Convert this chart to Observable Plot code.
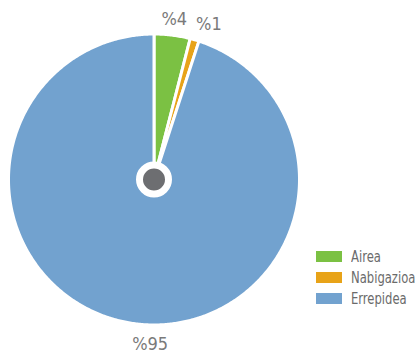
<!DOCTYPE html>
<html>
<head>
<meta charset="utf-8">
<script src="https://cdn.jsdelivr.net/npm/d3@7"></script>
<script src="https://cdn.jsdelivr.net/npm/@observablehq/plot@0.6"></script>
<style>
  html, body { margin: 0; padding: 0; background: #fff; }
  #wrap { position: relative; width: 418px; height: 354px; font-family: "Liberation Sans Narrow", "DejaVu Sans Condensed", sans-serif; }
  #legend { position: absolute; left: 316px; top: 246px; font-size: 15px; color: #6b6b6b; }
  .row { display: flex; align-items: center; height: 21px; white-space: nowrap; }
  .sw { width: 26px; height: 11px; margin-right: 9px; flex: none; }
  .lt { display: inline-block; transform: scaleX(0.86); transform-origin: left center; }
</style>
</head>
<body>
<div id="wrap"></div>
<script>
const categories = ["Airea", "Nabigazioa", "Errepidea"];
const values = [4, 1, 95];
const labels = ["%4", "%1", "%95"];
const colors = ["#7bc143", "#e8a318", "#72a2cf"];

const total = d3.sum(values);
const slices = [];
const polys = [];
let acc = 0;
categories.forEach((c, i) => {
  const a0 = acc / total * 2 * Math.PI;
  acc += values[i];
  const a1 = acc / total * 2 * Math.PI;
  slices.push({cat: c, label: labels[i], a0, a1, mid: (a0 + a1) / 2});
  polys.push({cat: c, x: 0, y: 0});
  const n = Math.max(2, Math.ceil((a1 - a0) / (Math.PI / 360)));
  for (let k = 0; k <= n; k++) {
    const a = a0 + (a1 - a0) * k / n;
    polys.push({cat: c, x: Math.sin(a), y: Math.cos(a)});
  }
  polys.push({cat: c, x: 0, y: 0});
});

const labelPts = slices.map(s => {
  const big = s.a1 - s.a0 > Math.PI;
  const r = big ? 1.13 : 1.11;
  const a = big ? Math.PI + (s.mid - Math.PI) * 0.15 : s.mid;
  const sx = Math.sin(a);
  return {label: s.label, x: sx * r, y: Math.cos(a) * r,
          anchor: sx > 0.2 ? "start" : sx < -0.2 ? "end" : "middle"};
});

const chart = Plot.plot({
  width: 418,
  height: 354,
  x: {domain: [-1, 1], range: [8, 299], axis: null},
  y: {domain: [-1, 1], range: [324.5, 33.5], axis: null},
  color: {domain: categories, range: colors},
  style: {fontFamily: '"Liberation Sans Narrow", "DejaVu Sans Condensed", sans-serif'},
  marks: [
    Plot.line(polys, {x: "x", y: "y", z: "cat", fill: "cat", stroke: "white", strokeWidth: 3, strokeLinejoin: "round", curve: "linear"}),
    Plot.dot([{x: 0, y: 0}], {x: "x", y: "y", r: 14.5, fill: "#6d6e71", stroke: "white", strokeWidth: 7}),
    Plot.text(labelPts.filter(d => d.anchor === "middle"), {x: "x", y: "y", text: "label", fontSize: 18, fill: "#7a7a7a", textAnchor: "middle"}),
    Plot.text(labelPts.filter(d => d.anchor === "start"), {x: "x", y: "y", text: "label", fontSize: 18, fill: "#7a7a7a", textAnchor: "start", dx: -3}),
    Plot.text(labelPts.filter(d => d.anchor === "end"), {x: "x", y: "y", text: "label", fontSize: 18, fill: "#7a7a7a", textAnchor: "end"})
  ]
});
document.getElementById("wrap").appendChild(chart);

const legend = document.createElement("div");
legend.id = "legend";
categories.forEach((c, i) => {
  const row = document.createElement("div");
  row.className = "row";
  const sw = document.createElement("div");
  sw.className = "sw";
  sw.style.background = colors[i];
  const t = document.createElement("span");
  t.className = "lt";
  t.textContent = c;
  row.appendChild(sw);
  row.appendChild(t);
  legend.appendChild(row);
});
document.getElementById("wrap").appendChild(legend);
</script>
</body>
</html>
